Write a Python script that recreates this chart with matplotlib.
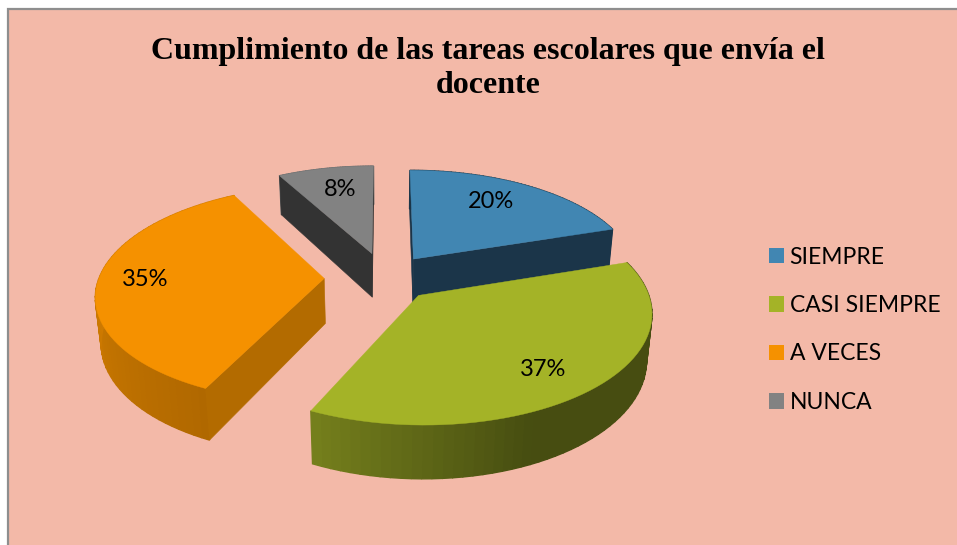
#!/usr/bin/env python3
import numpy as np
import matplotlib
matplotlib.use('Agg')
import matplotlib.pyplot as plt
from matplotlib.patches import Patch, Rectangle

categories = ['SIEMPRE', 'CASI SIEMPRE', 'A VECES', 'NUNCA']
values = [20, 37, 35, 8]
explode = [0.22, 0.22, 0.27, 0.24]
top_colors = ['#4186B2', '#A4B327', '#F59100', '#828282']
cut_colors = ['#1B3549', '#47490E', '#B36B00', '#333333']
title = 'Cumplimiento de las tareas escolares que envía el\ndocente'

# ----- projection of the tilted pie into pixels ----- #
CX, CY = 385, 277.5
FX, FY = 225, 106
DEPTH = 45
K = 0.14


def project(X, Y, Z=0.0):
    w = 1 + K * Y
    return CX + FX * X / (w + 0.02 * Z), CY - (FY * Y - DEPTH * Z) / w


def rgb_scale(color, s):
    return np.array(matplotlib.colors.to_rgb(color)) * s


def rim_shade(theta):
    return np.interp(theta, [0, 155, 205, 270, 360], [0.43, 0.43, 0.72, 0.85, 0.85])


fig = plt.figure(figsize=(9.57, 5.45), dpi=100)
ax = fig.add_axes([0, 0, 1, 1])
ax.set_xlim(0, 957)
ax.set_ylim(545, 0)
ax.axis('off')

ax.add_patch(Rectangle((8, 9), 1000, 600, facecolor='#F3B9A8', edgecolor='#8E8E8E', linewidth=1.6))

# ----- wedges ----- #
edges = np.cumsum([0] + values) / sum(values) * 360
wedges = []
for i in range(len(values)):
    a, b = edges[i], edges[i + 1]
    mid = np.radians((a + b) / 2)
    ox, oy = explode[i] * np.sin(mid), explode[i] * np.cos(mid)
    wedges.append((i, a, b, ox, oy))

# back to front
for i, a, b, ox, oy in [wedges[3], wedges[0], wedges[2], wedges[1]]:
    th = np.linspace(a, b, 60)
    rx = ox + np.sin(np.radians(th))
    ry = oy + np.cos(np.radians(th))

    # outer rim, shaded by angle
    for j in range(len(th) - 1):
        xs = [rx[j], rx[j + 1], rx[j + 1], rx[j]]
        ys = [ry[j], ry[j + 1], ry[j + 1], ry[j]]
        zs = [0, 0, 1, 1]
        px, py = project(np.array(xs), np.array(ys), np.array(zs))
        ax.fill(px, py, color=rgb_scale(top_colors[i], rim_shade(th[j])), lw=1.0, zorder=2 + i)

    # cut faces, only the ones turned toward the viewer
    for j, normal in ((0, a - 90), (-1, b + 90)):
        if np.cos(np.radians(normal)) > 1e-6:
            continue
        xs = [ox, rx[j], rx[j], ox]
        ys = [oy, ry[j], ry[j], oy]
        zs = [0, 0, 1, 1]
        px, py = project(np.array(xs), np.array(ys), np.array(zs))
        ax.fill(px, py, color=cut_colors[i], lw=0.4, zorder=2 + i)

    # top
    px, py = project(np.r_[ox, rx], np.r_[oy, ry])
    ax.fill(px, py, color=top_colors[i], lw=0.3, zorder=2 + i)

plt.rcParams['font.family'] = ['Lato', 'DejaVu Sans']

# ----- labels ----- #
label_pos = {0: (491, 202), 1: (543, 369), 2: (145, 280), 3: (340, 190)}
for i, v in enumerate(values):
    ax.text(label_pos[i][0], label_pos[i][1], f'{v}%', fontsize=17, ha='center', va='center',
            color='black', zorder=20)

ax.text(488, 68.5, title, fontsize=23, family='Liberation Serif', fontweight='bold', ha='center',
        va='center', linespacing=1.22, color='black', zorder=20)

handles = [Patch(facecolor=c, edgecolor='none') for c in top_colors]
leg = ax.legend(handles, categories, loc='upper left', bbox_to_anchor=(769 / 957, 1 - 246.5 / 545),
                frameon=False, fontsize=16.5, handlelength=0.65, handleheight=0.65, handletextpad=0.25,
                labelspacing=1.2, borderpad=0, borderaxespad=0)
leg.set_zorder(20)

fig.savefig('out.png', dpi=100)
